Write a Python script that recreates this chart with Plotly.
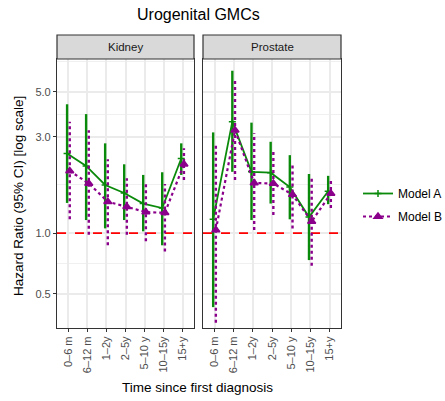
import plotly.graph_objects as go
import math

categories = ["0–6 m", "6–12 m", "1–2y", "2–5y", "5–10 y", "10–15y", "15+y"]
panels = ["Kidney", "Prostate"]

# Kidney
kid_a_hr = [2.48, 2.15, 1.73, 1.58, 1.40, 1.33, 2.34]
kid_a_lo = [1.41, 1.16, 1.055, 1.16, 1.02, 0.87, 1.94]
kid_a_hi = [4.34, 3.88, 2.78, 2.19, 1.94, 2.00, 2.78]
kid_b_hr = [2.03, 1.76, 1.43, 1.35, 1.27, 1.26, 2.19]
kid_b_lo = [1.17, 0.98, 0.87, 0.98, 0.91, 0.81, 1.83]
kid_b_hi = [3.56, 3.23, 2.32, 1.87, 1.75, 1.75, 2.63]

# Prostate
pro_a_hr = [1.17, 3.56, 2.01, 1.99, 1.69, 1.20, 1.61]
pro_a_lo = [0.43, 2.01, 1.16, 1.40, 1.17, 0.735, 1.39]
pro_a_hi = [3.15, 6.36, 3.52, 2.83, 2.43, 1.96, 1.92]
pro_b_hr = [1.035, 3.23, 1.77, 1.76, 1.55, 1.14, 1.57]
pro_b_lo = [0.36, 1.83, 1.035, 1.23, 1.055, 0.69, 1.33]
pro_b_hi = [2.80, 5.68, 3.12, 2.53, 2.21, 1.87, 1.87]

y_ticks = [0.5, 1.0, 3.0, 5.0]
y_tick_labels = ["0.5", "1.0", "3.0", "5.0"]
REF_LINE = 1.0

GREEN = "#0a8a0a"
PURPLE = "#8b008b"
DODGE = 0.07

fig = go.Figure()

data = [
    (kid_a_hr, kid_a_lo, kid_a_hi, kid_b_hr, kid_b_lo, kid_b_hi),
    (pro_a_hr, pro_a_lo, pro_a_hi, pro_b_hr, pro_b_lo, pro_b_hi),
]

idx = list(range(len(categories)))
for p, (ahr, alo, ahi, bhr, blo, bhi) in enumerate(data):
    xa = "x" if p == 0 else "x2"
    ya = "y" if p == 0 else "y2"
    fig.add_trace(go.Scatter(x=[-0.6, len(categories) - 0.4], y=[REF_LINE, REF_LINE],
                             mode="lines", line=dict(color="#ff0000", width=1.6, dash="dash"),
                             xaxis=xa, yaxis=ya, showlegend=False, hoverinfo="skip"))
    for (hr, lo, hi, col, dash, off, name, sym, msize, lw) in [
        (ahr, alo, ahi, GREEN, "solid", -DODGE, "Model A", "cross-thin", 5, 1.8),
        (bhr, blo, bhi, PURPLE, "dot", DODGE, "Model B", "triangle-up", 7, 2.2),
    ]:
        ex, ey = [], []
        for i in idx:
            ex += [i + off, i + off, None]
            ey += [lo[i], hi[i], None]
        fig.add_trace(go.Scatter(x=ex, y=ey, mode="lines",
                                 line=dict(color=col, width=2.4, dash=dash),
                                 xaxis=xa, yaxis=ya, showlegend=False, hoverinfo="skip"))
        fig.add_trace(go.Scatter(x=[i + off for i in idx], y=hr, mode="lines+markers",
                                 line=dict(color=col, width=lw, dash=dash),
                                 marker=dict(symbol=sym, size=msize, color=col,
                                             line=dict(color=col, width=1.5)),
                                 name=name, legendgroup=name, xaxis=xa, yaxis=ya,
                                 showlegend=(p == 0)))

W, H = 445, 401
ml, mr, mt, mb = 57, 104, 59, 73
pw = W - ml - mr
ph = H - mt - mb
d1 = [0, 137 / pw]
d2 = [146 / pw, 1]

grid_major = "#ebebeb"
xcommon = dict(range=[-0.6, len(categories) - 0.4], tickmode="array", tickvals=idx,
               ticktext=categories, tickangle=-90, ticks="outside", ticklen=3,
               tickcolor="#333333", tickfont=dict(size=11, color="#4d4d4d", family="Liberation Sans"),
               showgrid=True, gridcolor=grid_major, gridwidth=1.6, zeroline=False,
               showline=True, linecolor="#333333", linewidth=1.2, mirror=True)
minor_vals = [math.sqrt(0.5), math.sqrt(3), math.sqrt(15), math.sqrt(50)]
ycommon = dict(type="log", range=[math.log10(0.339), math.log10(7.27)],
               tickmode="array", tickvals=y_ticks, ticktext=y_tick_labels,
               showgrid=True, gridcolor=grid_major, gridwidth=1.6, zeroline=False,
               showline=True, linecolor="#333333", linewidth=1.2, mirror=True,
               minor=dict(tickmode="array", tickvals=minor_vals, showgrid=True,
                          gridcolor="#f0f0f0", gridwidth=1.0, ticks=""))

fig.update_layout(
    width=W, height=H,
    margin=dict(l=ml, r=mr, t=mt, b=mb, pad=0, autoexpand=False),
    paper_bgcolor="white", plot_bgcolor="white",
    font=dict(family="Liberation Sans", color="black"),
    xaxis=dict(domain=d1, anchor="y", **xcommon),
    xaxis2=dict(domain=d2, anchor="y2", **xcommon),
    yaxis=dict(domain=[0, 1], anchor="x", ticks="outside", ticklen=3, tickcolor="#333333",
               tickfont=dict(size=11, color="#4d4d4d", family="Liberation Sans"), **ycommon),
    yaxis2=dict(domain=[0, 1], anchor="x2", matches="y", showticklabels=False, ticks="", **ycommon),
    legend=dict(x=(358 - ml) / pw, y=(328 - 205) / ph, xanchor="left", yanchor="middle",
                font=dict(size=12, color="black", family="Liberation Sans"),
                bgcolor="rgba(0,0,0,0)", traceorder="grouped", tracegroupgap=4,
                itemwidth=30),
    showlegend=True,
)

strip_h = 24 / ph
shapes = []
annotations = []
for p, name in enumerate(panels):
    xr = "x domain" if p == 0 else "x2 domain"
    shapes.append(dict(type="rect", xref=xr, yref="paper", x0=0, x1=1, y0=1, y1=1 + strip_h,
                       fillcolor="#d9d9d9", line=dict(color="#333333", width=1.2), layer="above"))
    annotations.append(dict(text=name, xref=xr, yref="paper", x=0.5, y=1 + strip_h / 2,
                            showarrow=False, xanchor="center", yanchor="middle",
                            font=dict(size=11.5, color="#1a1a1a", family="Liberation Sans")))
fig.update_layout(shapes=shapes)

annotations.append(dict(text="Urogenital GMCs", xref="paper", yref="paper",
                        x=(198 - ml) / pw, y=(328 - 15) / ph, showarrow=False,
                        xanchor="center", yanchor="middle",
                        font=dict(size=16, color="black", family="Liberation Sans")))
annotations.append(dict(text="Time since first diagnosis", xref="paper", yref="paper",
                        x=(197 - ml) / pw, y=(328 - 387) / ph, showarrow=False,
                        xanchor="center", yanchor="middle",
                        font=dict(size=13.5, color="black", family="Liberation Sans")))
annotations.append(dict(text="Hazard Ratio (95% CI) [log scale]", xref="paper", yref="paper",
                        x=(18 - ml) / pw, y=(328 - 196) / ph, showarrow=False, textangle=-90,
                        xanchor="center", yanchor="middle",
                        font=dict(size=13.5, color="black", family="Liberation Sans")))
fig.update_layout(annotations=annotations)

fig.write_html("out.html", config={"displayModeBar": False},
               post_script="document.body.style.margin='0px';document.body.style.overflow='hidden';")
